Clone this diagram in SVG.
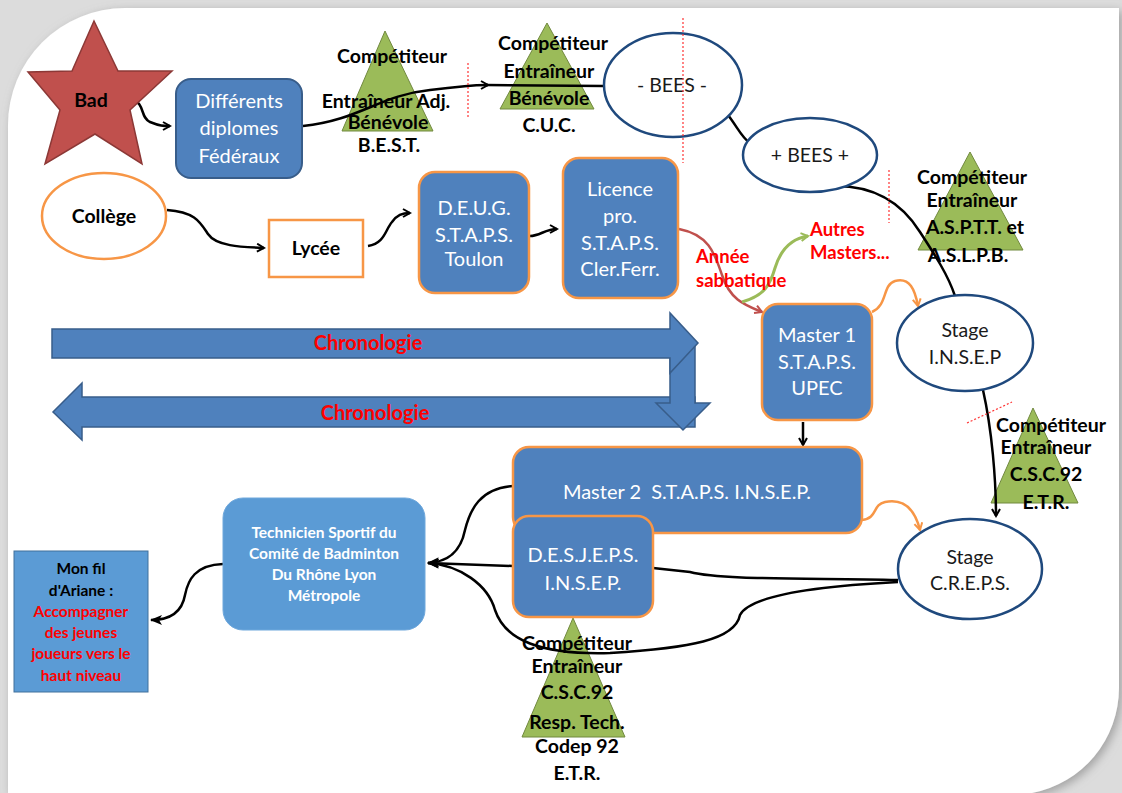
<svg xmlns="http://www.w3.org/2000/svg" width="1122" height="793" viewBox="0 0 1122 793">
<defs>
<style>
.t{font-family:Lato,"Liberation Sans",sans-serif}
.wb{font-size:20px;fill:#fff;text-anchor:middle}
.tb{font-size:19.5px;font-weight:bold;fill:#000;text-anchor:middle}
.el{font-size:19.5px;fill:#1a1a1a;text-anchor:middle}
.red{font-size:18.5px;font-weight:bold;fill:#ff0000}
.box{fill:#4f81bd;stroke:#f79646;stroke-width:2.5}
.boxb{fill:#4f81bd;stroke:#385d8a;stroke-width:2}
.tri{fill:#9bbb59;stroke:#71893f;stroke-width:1}
.ell{fill:#fff;stroke:#1f497d;stroke-width:2.5}
.oel{fill:#fff;stroke:#f79646;stroke-width:2.5}
.c{fill:none;stroke:#000;stroke-width:2.5}
.chr{fill:#4f81bd;stroke:#385d8a;stroke-width:1.5}
.dot{stroke:#ff3333;stroke-width:1.2;stroke-dasharray:2 2;fill:none}
</style>
<marker id="ao" viewBox="0 0 10 10" refX="8" refY="5" markerWidth="10" markerHeight="10" markerUnits="userSpaceOnUse" orient="auto">
<path d="M1,1 L8,5 L1,9" fill="none" stroke="#000" stroke-width="2"/>
</marker>
<marker id="aor" viewBox="0 0 10 10" refX="8" refY="5" markerWidth="10" markerHeight="10" markerUnits="userSpaceOnUse" orient="auto">
<path d="M1,1 L8,5 L1,9" fill="none" stroke="#c0504d" stroke-width="2"/>
</marker>
<marker id="aog" viewBox="0 0 10 10" refX="8" refY="5" markerWidth="10" markerHeight="10" markerUnits="userSpaceOnUse" orient="auto">
<path d="M1,1 L8,5 L1,9" fill="none" stroke="#9bbb59" stroke-width="2"/>
</marker>
<marker id="aoo" viewBox="0 0 10 10" refX="8" refY="5" markerWidth="10" markerHeight="10" markerUnits="userSpaceOnUse" orient="auto">
<path d="M1,1 L8,5 L1,9" fill="none" stroke="#f79646" stroke-width="2"/>
</marker>
<marker id="af" viewBox="0 0 12 10" refX="11" refY="5" markerWidth="12" markerHeight="10" markerUnits="userSpaceOnUse" orient="auto">
<path d="M0,0 L12,5 L0,10 L3,5 Z" fill="#000"/>
</marker>
<filter id="sh" x="-5%" y="-5%" width="110%" height="110%">
<feDropShadow dx="3" dy="3" stdDeviation="5" flood-color="#888" flood-opacity="0.7"/>
</filter>
</defs>

<rect x="0" y="0" width="1122" height="793" fill="#dcdcdc"/>
<path d="M8,125 A117,117 0 0 1 125,8 L1119,8 L1119,688 A107,107 0 0 1 1032,793 L8,793 Z" fill="#fff" filter="url(#sh)"/>

<g id="chronologie">
<polygon class="chr" points="82,397 695,397 695,427 82,427 82,440 53,412 82,383"/>
<polygon class="chr" points="670,343 695,343 695,403 710,403 683,430 656,403 670,403"/>
<polygon class="chr" points="52,329 670,329 670,313 698,343 670,373 670,358 52,358"/>
<text class="t" x="368" y="350" font-size="20" font-weight="bold" fill="#ff0000" text-anchor="middle">Chronologie</text>
<text class="t" x="375" y="420" font-size="20" font-weight="bold" fill="#ff0000" text-anchor="middle">Chronologie</text>
</g>

<g id="tri-best">
<polygon class="tri" points="385,31 433,131 342,131"/>
<text class="t tb" x="392" y="63">Compétiteur</text>
<text class="t tb" x="386" y="108">Entraîneur Adj.</text>
<text class="t tb" x="388" y="129">Bénévole</text>
<text class="t tb" x="389" y="152" font-size="17">B.E.S.T.</text>
</g>
<g id="tri-cuc">
<polygon class="tri" points="547,23 594,109 500,109"/>
<text class="t tb" x="553" y="50">Compétiteur</text>
<text class="t tb" x="549" y="78">Entraîneur</text>
<text class="t tb" x="549" y="105">Bénévole</text>
<text class="t tb" x="549" y="132">C.U.C.</text>
</g>
<g id="tri-asptt">
<polygon class="tri" points="970,152 1023,250 918,250"/>
<text class="t tb" x="972" y="184">Compétiteur</text>
<text class="t tb" x="972" y="207">Entraîneur</text>
<text class="t tb" x="975" y="234">A.S.P.T.T. et</text>
<text class="t tb" x="968" y="262">A.S.L.P.B.</text>
</g>
<g id="tri-csc">
<polygon class="tri" points="1033,408 1078,503 991,503"/>
<text class="t tb" x="1051" y="432">Compétiteur</text>
<text class="t tb" x="1046" y="454">Entraîneur</text>
<text class="t tb" x="1046" y="481">C.S.C.92</text>
<text class="t tb" x="1046" y="509">E.T.R.</text>
</g>
<g id="tri-codep">
<polygon class="tri" points="573,618 625,737 522,737"/>
<text class="t tb" x="577" y="650">Compétiteur</text>
<text class="t tb" x="577" y="673">Entraîneur</text>
<text class="t tb" x="577" y="699">C.S.C.92</text>
<text class="t tb" x="577" y="729">Resp. Tech.</text>
<text class="t tb" x="577" y="753">Codep 92</text>
<text class="t tb" x="577" y="780">E.T.R.</text>
</g>

<g id="connectors">
<path class="c" d="M132,100 C145,102 140,118 150,122 S163,126 170,126" marker-end="url(#ao)"/>
<path class="c" d="M303,126 C360,120 380,95 430,90 S470,85 488,85" marker-end="url(#ao)"/>
<path class="c" d="M486,85 L604,86"/>
<path class="c" d="M728,115 C738,128 742,138 750,143"/>
<path class="c" d="M836,186 C870,186 900,200 920,232 C935,255 948,275 955,296"/>
<path class="c" d="M167,210 C195,212 200,222 208,234 C216,246 240,247 264,248" marker-end="url(#ao)"/>
<path class="c" d="M368,246 C385,243 385,230 392,222 C397,215 402,213 410,213" marker-end="url(#ao)"/>
<path class="c" d="M530,236 C540,236 545,229 557,229" marker-end="url(#ao)"/>
<path d="M679,229 C710,235 715,255 722,275 C730,300 745,305 762,312" fill="none" stroke="#c0504d" stroke-width="2.5" marker-end="url(#aor)"/>
<path d="M742,302 C765,295 770,285 775,268 C782,245 795,238 808,236" fill="none" stroke="#9bbb59" stroke-width="3" marker-end="url(#aog)"/>
<path d="M872,312 C888,305 882,285 895,281 C910,277 915,290 918,306" fill="none" stroke="#f79646" stroke-width="2.5" marker-end="url(#aoo)"/>
<path class="c" d="M803,422 L803,445" marker-end="url(#ao)"/>
<path class="c" d="M983,390 C992,430 996,480 996,516" marker-end="url(#ao)"/>
<path d="M862,520 C878,518 872,505 885,502 C905,498 915,510 920,530" fill="none" stroke="#f79646" stroke-width="2.5" marker-end="url(#aoo)"/>
<path class="c" d="M898,580 C800,578 720,580 690,572 L653,568"/>
<path class="c" d="M898,582 C820,586 750,595 740,615 C735,640 690,648 610,653 C540,655 505,640 495,610 C488,585 460,565 428,563" marker-end="url(#af)"/>
<path class="c" d="M513,486 C480,488 470,510 465,530 C460,555 445,562 428,563" marker-end="url(#af)"/>
<path class="c" d="M513,566 L428,563" marker-end="url(#af)"/>
<path class="c" d="M223,564 C195,565 188,580 185,595 C182,612 170,620 151,620" marker-end="url(#af)"/>
</g>

<g id="bad">
<polygon points="94,21 118,71 172,71 130,110 142,164 95,134 45,164 60,110 28,72 72,71" fill="#c0504d" stroke="#8c3836" stroke-width="1.5"/>
<text class="t" x="91" y="107" font-size="19.5" font-weight="bold" fill="#000" text-anchor="middle">Bad</text>
</g>
<g id="diplomes">
<rect class="boxb" x="176" y="79" width="126" height="99" rx="15"/>
<text class="t wb" x="239" y="108">Différents</text>
<text class="t wb" x="239" y="135">diplomes</text>
<text class="t wb" x="239" y="163">Fédéraux</text>
</g>
<g id="bees">
<ellipse class="ell" cx="673" cy="85" rx="69" ry="52"/>
<text class="t el" x="672" y="92">- BEES -</text>
</g>
<g id="bees-plus">
<ellipse class="ell" cx="810" cy="155" rx="67" ry="37"/>
<text class="t el" x="810" y="162">+ BEES +</text>
</g>
<g id="college">
<ellipse class="oel" cx="104" cy="216" rx="62" ry="43"/>
<text class="t" x="104" y="223" font-size="19.5" font-weight="bold" fill="#000" text-anchor="middle">Collège</text>
</g>
<g id="lycee">
<rect x="269" y="220" width="94" height="57" fill="#fff" stroke="#f79646" stroke-width="2.5"/>
<text class="t" x="316" y="255" font-size="19.5" font-weight="bold" fill="#000" text-anchor="middle">Lycée</text>
</g>
<g id="deug">
<rect class="box" x="419" y="172" width="110" height="121" rx="16"/>
<text class="t wb" x="474" y="215">D.E.U.G.</text>
<text class="t wb" x="474" y="242">S.T.A.P.S.</text>
<text class="t wb" x="474" y="266">Toulon</text>
</g>
<g id="licence">
<rect class="box" x="563" y="158" width="115" height="140" rx="16"/>
<text class="t wb" x="620" y="196">Licence</text>
<text class="t wb" x="620" y="223">pro.</text>
<text class="t wb" x="620" y="250">S.T.A.P.S.</text>
<text class="t wb" x="620" y="276">Cler.Ferr.</text>
</g>
<g id="annee">
<text class="t red" x="696" y="263">Année</text>
<text class="t red" x="696" y="287">sabbatique</text>
</g>
<g id="autres">
<text class="t red" x="810" y="236">Autres</text>
<text class="t red" x="810" y="259">Masters...</text>
</g>
<g id="master1">
<rect class="box" x="762" y="304" width="110" height="116" rx="16"/>
<text class="t wb" x="817" y="342">Master 1</text>
<text class="t wb" x="817" y="369">S.T.A.P.S.</text>
<text class="t wb" x="817" y="395">UPEC</text>
</g>
<g id="stage-insep">
<ellipse class="ell" cx="965" cy="343" rx="68" ry="48"/>
<text class="t el" x="965" y="337">Stage</text>
<text class="t el" x="965" y="364">I.N.S.E.P</text>
</g>
<g id="master2">
<rect class="box" x="513" y="447" width="349" height="86" rx="16"/>
<text class="t wb" x="687" y="499" style="white-space:pre">Master 2  S.T.A.P.S. I.N.S.E.P.</text>
</g>
<g id="desjeps">
<rect class="box" x="513" y="516" width="140" height="101" rx="16"/>
<text class="t wb" x="583" y="562">D.E.S.J.E.P.S.</text>
<text class="t wb" x="583" y="590">I.N.S.E.P.</text>
</g>
<g id="stage-creps">
<ellipse class="ell" cx="970" cy="569" rx="72" ry="50"/>
<text class="t el" x="970" y="564">Stage</text>
<text class="t el" x="970" y="590">C.R.E.P.S.</text>
</g>
<g id="technicien">
<rect x="223" y="498" width="202" height="132" rx="20" fill="#5b9bd5" stroke="#6fa8dc" stroke-width="1"/>
<g class="t" font-size="15.5" font-weight="bold" fill="#fff" text-anchor="middle">
<text x="324" y="538">Technicien Sportif du</text>
<text x="324" y="559">Comité de Badminton</text>
<text x="324" y="580">Du Rhône Lyon</text>
<text x="324" y="601">Métropole</text>
</g>
</g>
<g id="fil">
<rect x="14" y="551" width="134" height="141" fill="#5b9bd5" stroke="#41719c" stroke-width="1"/>
<g class="t" font-size="15.5" font-weight="bold" text-anchor="middle">
<text x="81" y="574" fill="#000">Mon fil</text>
<text x="81" y="596" fill="#000">d'Ariane :</text>
<text x="81" y="617" fill="#ff0000">Accompagner</text>
<text x="81" y="638" fill="#ff0000">des jeunes</text>
<text x="81" y="659" fill="#ff0000">joueurs vers le</text>
<text x="81" y="681" fill="#ff0000">haut niveau</text>
</g>
</g>

<g id="separators">
<line class="dot" x1="468" y1="63" x2="468" y2="117"/>
<line class="dot" x1="683" y1="18" x2="683" y2="163"/>
<line class="dot" x1="889" y1="170" x2="889" y2="223"/>
<line class="dot" x1="967" y1="423" x2="1012" y2="402"/>
</g>
</svg>
